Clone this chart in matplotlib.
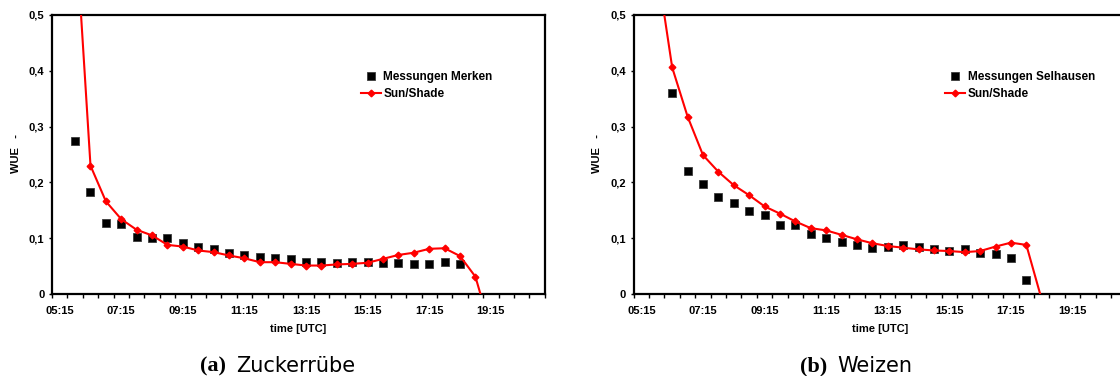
import matplotlib
matplotlib.use("Agg")
import matplotlib.pyplot as plt
import numpy as np

# Half-hour time slots (category axis)
slots = ["05:15", "05:45", "06:15", "06:45", "07:15", "07:45", "08:15", "08:45",
         "09:15", "09:45", "10:15", "10:45", "11:15", "11:45", "12:15", "12:45",
         "13:15", "13:45", "14:15", "14:45", "15:15", "15:45", "16:15", "16:45",
         "17:15", "17:45", "18:15", "18:45", "19:15", "19:45", "20:15", "20:45"]
tick_labels = ["05:15", "07:15", "09:15", "11:15", "13:15", "15:15", "17:15", "19:15"]
y_ticks = [0, 0.1, 0.2, 0.3, 0.4, 0.5]
y_tick_labels = ["0", "0,1", "0,2", "0,3", "0,4", "0,5"]

# (a) Zuckerrübe – Messungen Merken: from 05:45 to 18:15
merken_times = slots[1:27]
merken_meas = [0.274, 0.183, 0.128, 0.125, 0.103, 0.100, 0.100, 0.091, 0.085, 0.080,
               0.074, 0.070, 0.066, 0.065, 0.062, 0.058, 0.057, 0.056, 0.057, 0.057,
               0.055, 0.056, 0.054, 0.054, 0.057, 0.054]
# Sun/Shade model: from 05:45 to 19:15
merken_model_times = slots[1:29]
merken_model = [0.670, 0.230, 0.166, 0.134, 0.115, 0.105, 0.088, 0.085, 0.078, 0.075,
                0.069, 0.064, 0.057, 0.057, 0.054, 0.051, 0.051, 0.053, 0.054, 0.056,
                0.063, 0.070, 0.074, 0.081, 0.082, 0.068, 0.031, -0.064]

# (b) Weizen – Messungen Selhausen: from 06:15 to 17:45
selh_times = slots[2:26]
selh_meas = [0.361, 0.220, 0.198, 0.173, 0.163, 0.149, 0.141, 0.123, 0.124, 0.107,
             0.101, 0.094, 0.088, 0.083, 0.085, 0.087, 0.085, 0.081, 0.077, 0.080,
             0.074, 0.071, 0.064, 0.025]
selh_model_times = slots[1:27]
selh_model = [0.590, 0.406, 0.318, 0.249, 0.219, 0.195, 0.177, 0.157, 0.144, 0.130,
              0.118, 0.114, 0.106, 0.098, 0.091, 0.086, 0.083, 0.080, 0.078, 0.077,
              0.075, 0.077, 0.085, 0.092, 0.088, -0.010]

panels = [
    dict(meas_t=merken_times, meas=merken_meas, mod_t=merken_model_times, mod=merken_model,
         meas_label="Messungen Merken", letter="(a)", name="Zuckerrübe"),
    dict(meas_t=selh_times, meas=selh_meas, mod_t=selh_model_times, mod=selh_model,
         meas_label="Messungen Selhausen", letter="(b)", name="Weizen"),
]

W, H = 1120, 376
fig = plt.figure(figsize=(W / 100, H / 100), dpi=100)
FONT = "Liberation Sans"

def pos(t):
    return [slots.index(s) + 0.5 for s in t]

ax_left_px = [52, 633.7]
ax_w_px = 492.7
ax_top_px, ax_bot_px = 15, 294

for k, p in enumerate(panels):
    x0 = ax_left_px[k]
    ax = fig.add_axes([x0 / W, 1 - ax_bot_px / H, ax_w_px / W, (ax_bot_px - ax_top_px) / H])
    ax.plot(pos(p["meas_t"]), p["meas"], linestyle="none", marker="s", ms=5.6,
            mfc="black", mec="#3a3a3a", mew=0.6, label=p["meas_label"], zorder=3)
    ax.plot(pos(p["mod_t"]), p["mod"], color="#ff0000", lw=1.5, marker="D", ms=3.4,
            mfc="#ff0000", mec="#ff0000", label="Sun/Shade", zorder=4)
    ax.set_xlim(0, len(slots))
    ax.set_ylim(0, 0.5)
    ax.set_xticks([slots.index(s) + 0.5 for s in tick_labels])
    ax.set_xticklabels(tick_labels)
    ax.set_xticks(np.arange(0, len(slots) + 1), minor=True)
    ax.tick_params(axis="x", which="major", length=0, pad=9)
    ax.tick_params(axis="x", which="minor", length=3, width=1, direction="out")
    ax.set_yticks(y_ticks)
    ax.set_yticklabels(y_tick_labels)
    ax.tick_params(axis="y", length=2.5, width=1, direction="out", pad=3)
    for lab in ax.get_xticklabels() + ax.get_yticklabels():
        lab.set_fontfamily(FONT)
        lab.set_fontweight("bold")
        lab.set_fontsize(8)
    for sp in ax.spines.values():
        sp.set_linewidth(1.6)
        sp.set_color("black")
    ax.set_xlabel("time [UTC]", fontfamily=FONT, fontweight="bold", fontsize=8, labelpad=5.5)
    leg = ax.legend(loc="upper left", bbox_to_anchor=(0.627 if k == 0 else 0.632, 0.799),
                    frameon=False, prop=dict(family=FONT, weight="bold", size=8.5),
                    handlelength=1.7, handletextpad=0.2, labelspacing=0.45,
                    borderpad=0, borderaxespad=0)
    # y label
    fig.text((x0 - 36.2) / W, 1 - 154 / H, "WUE   -", rotation=90, ha="center", va="center",
             fontfamily=FONT, fontweight="bold", fontsize=8)
    # caption
    cap_right = [226, 827][k]
    fig.text(cap_right / W, 1 - 371.5 / H, p["letter"], ha="right", va="baseline",
             fontfamily="Liberation Serif", fontweight="bold", fontsize=16)
    fig.text((cap_right + 10) / W, 1 - 371.5 / H, p["name"], ha="left", va="baseline",
             fontfamily="DejaVu Sans", fontsize=15)

fig.savefig("out.png", dpi=100)
